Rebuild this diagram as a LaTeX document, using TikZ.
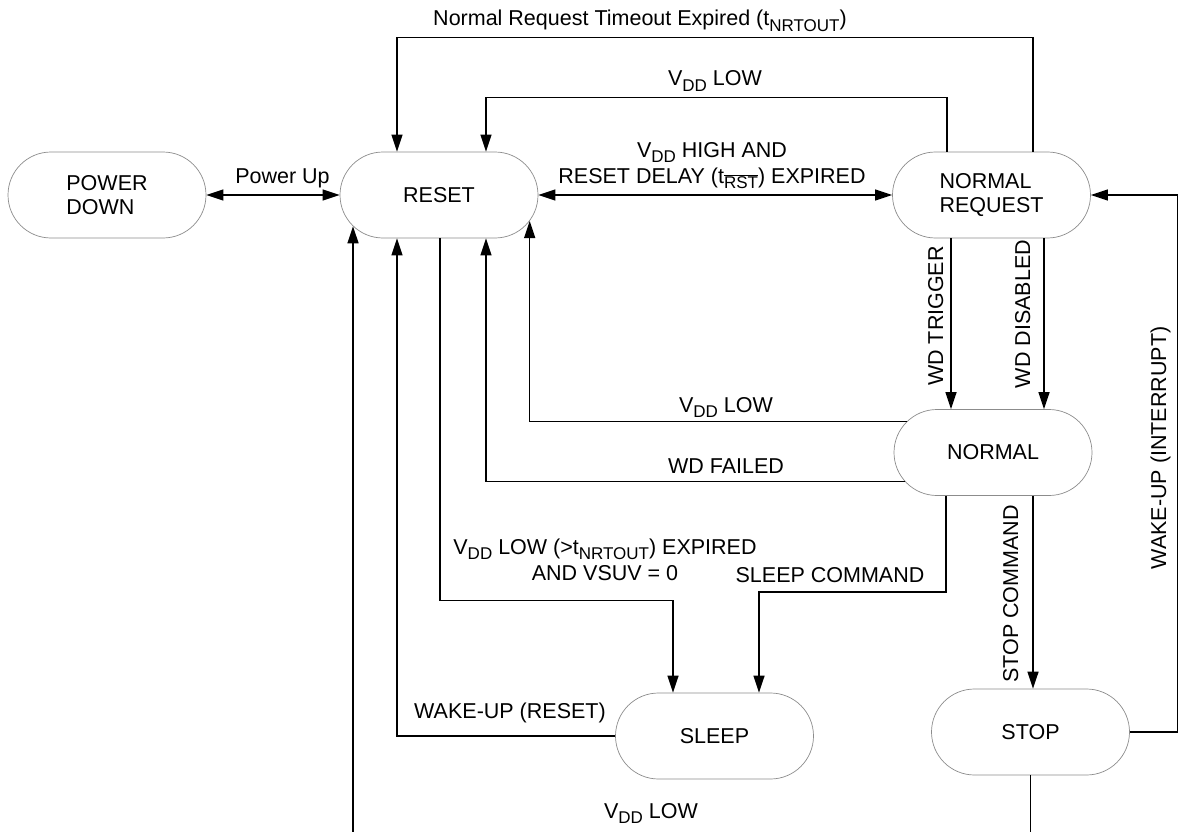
\documentclass[tikz,border=0pt]{standalone}
\usepackage{fontspec}
\setmainfont{Liberation Sans}
\usetikzlibrary{arrows.meta,shapes.misc,calc}
\newcommand\lsub[1]{\raisebox{-0.26em}{\fontsize{17}{17}\selectfont #1}}
\begin{document}
\begin{tikzpicture}[x=1pt,y=-1pt,
  state/.style={rounded rectangle, draw=black!45, line width=0.7pt, minimum width=198pt, minimum height=86pt, inner sep=0pt, align=center, font=\fontsize{21.5}{23.5}\selectfont},
  conn/.style={line width=1.4pt, draw=black},
  arr/.style={conn, -{Triangle[length=17pt,width=11pt]}},
  dbl/.style={conn, {Triangle[length=17pt,width=11pt]}-{Triangle[length=17pt,width=11pt]}},
  lbl/.style={font=\fontsize{21.5}{26}\selectfont, inner sep=0pt, anchor=base, align=center},
]
\useasboundingbox (0,0) rectangle (1178,832);
% states
\node[state, align=left] (PD) at (107,195) {POWER\\DOWN};
\node[state] (RESET) at (439,195) {RESET};
\node[state, align=left] (NR) at (991.5,195) {NORMAL\\REQUEST};
\node[state] (NORMAL) at (993,452.5) {NORMAL};
\node[state] (SLEEP) at (714.5,736) {SLEEP};
\node[state] (STOP) at (1030.5,732) {STOP};
% helper coordinates
\coordinate (wt) at ($(NR.south)+(-40.5,0)$);
\coordinate (wd) at ($(NR.south)+(52.5,0)$);
\coordinate (sc) at ($(NORMAL.south)+(40,0)$);
% connectors
\draw[dbl] (PD.east) -- (RESET.west);
\draw[dbl] (RESET.east) -- (NR.west);
\draw[arr] ($(NR.north)+(41.5,0)$) -- ++(0,-114) -| ($(RESET.north)+(-42,0)$);
\draw[arr] ($(NR.north)+(-44.5,0)$) -- ++(0,-54) -| ($(RESET.north)+(47,0)$);
\draw[arr] (wt) -- (wt |- NORMAL.north);
\draw[arr] (wd) -- (wd |- NORMAL.north);
\draw[arr] (NORMAL.160) -| (RESET.-16);
\draw[arr] (NORMAL.198) -| ($(RESET.south)+(47,0)$);
\draw[arr] ($(RESET.south)+(1,0)$) -- ++(0,362) -| ($(SLEEP.north)+(-41.5,0)$);
\draw[arr] ($(NORMAL.south)+(-47,0)$) -- ++(0,96) -| ($(SLEEP.north)+(44.5,0)$);
\draw[arr] (sc) -- (sc |- STOP.north);
\draw[arr] (STOP.east) -- ++(47.5,0) |- (NR.east);
\draw[arr] (SLEEP.west) -| ($(RESET.south)+(-42,0)$);
\draw[arr] (STOP.south) -- ++(0,70) -| (RESET.200);
% labels
\node[lbl] (lPU) at (282.5,183) {Power Up};
\node[lbl] (lNRT) at (640,26) {Normal Request Timeout Expired (t\lsub{NRTOUT})};
\node[lbl] (lV1) at (715,86) {V\lsub{DD} LOW};
\node[lbl] (lHA) at (712,183) {V\lsub{DD} HIGH AND\\RESET DELAY (t\lsub{$\overline{\hbox{RST}}$}) EXPIRED};
\node[lbl] (lVm) at (726,412) {V\lsub{DD} LOW};
\node[lbl] (lWF) at (726,473) {WD FAILED};
\node[lbl] (lVS) at (605,580) {V\lsub{DD} LOW (>t\lsub{NRTOUT}) EXPIRED\\AND VSUV = 0};
\node[lbl] (lSC) at (830,582) {SLEEP COMMAND};
\node[lbl] (lWR) at (510,718) {WAKE-UP (RESET)};
\node[lbl] (lVb) at (651,818) {V\lsub{DD} LOW};
\node[lbl, rotate=90] (lWT) at (943,316) {WD TRIGGER};
\node[lbl, rotate=90] (lWD) at (1030,314) {WD DISABLED};
\node[lbl, rotate=90] (lST) at (1018,594) {STOP COMMAND};
\node[lbl, rotate=90] (lWI) at (1166,448) {WAKE-UP (INTERRUPT)};
\end{tikzpicture}
\end{document}
